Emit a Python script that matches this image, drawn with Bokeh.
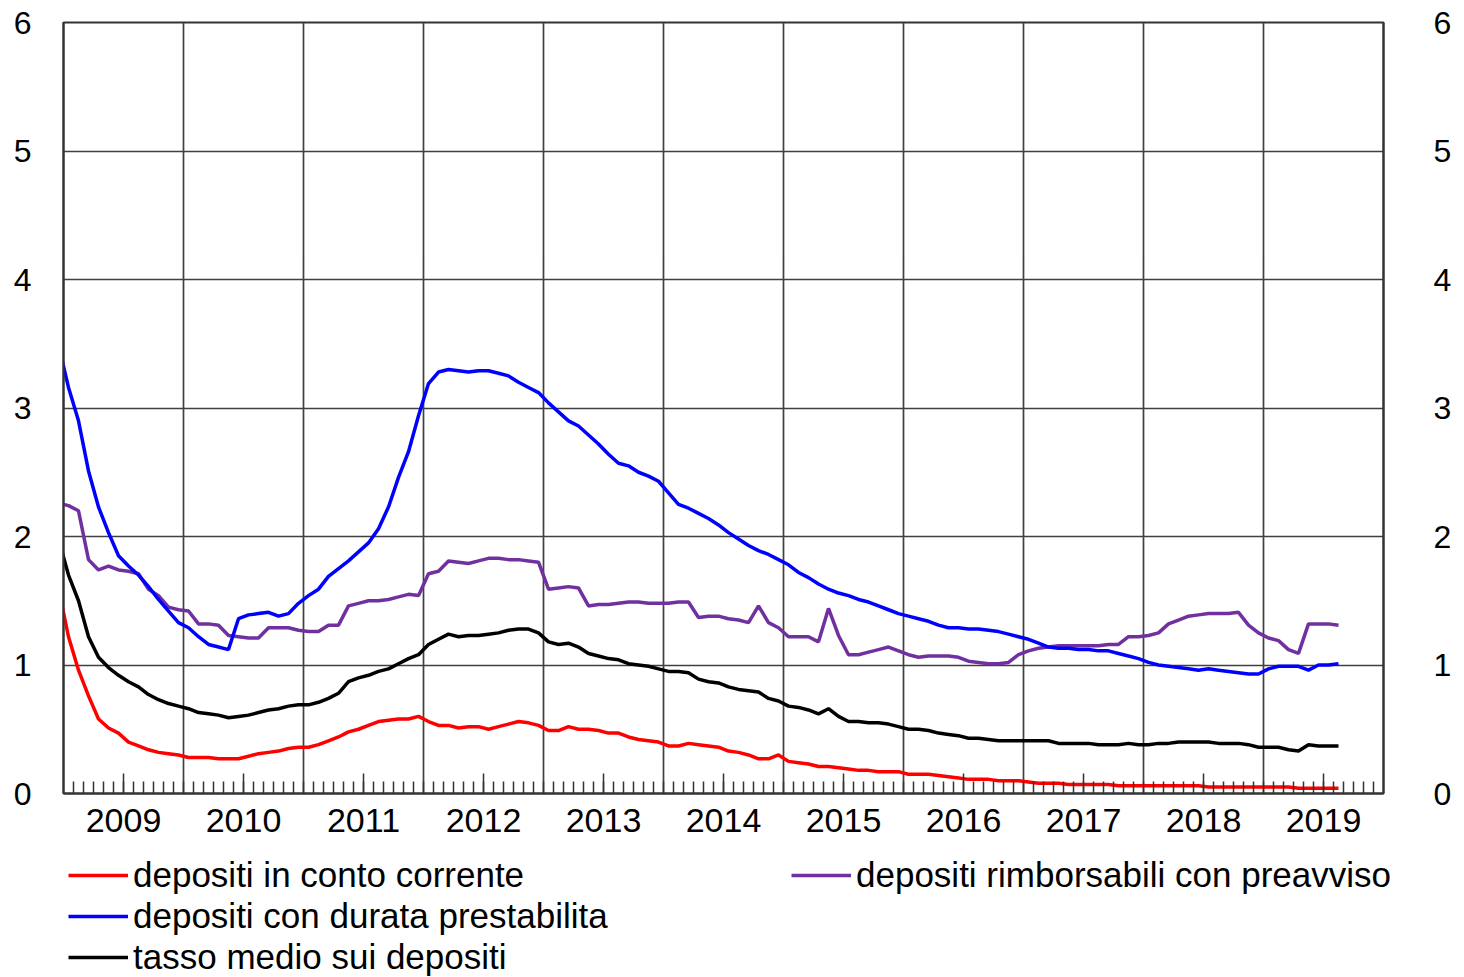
from bokeh.plotting import figure
from bokeh.layouts import column
from bokeh.models import FixedTicker, LinearAxis, Range1d, Legend, LegendItem, ColumnDataSource
from bokeh.embed import file_html
from bokeh.resources import INLINE

# ---------------- data (monthly, Dec 2008 .. Aug 2019) ----------------
first_year, first_month = 2008, 12
years = ["2009", "2010", "2011", "2012", "2013", "2014", "2015", "2016", "2017", "2018", "2019"]
y_ticks = [0, 1, 2, 3, 4, 5, 6]
labels = ["depositi in conto corrente", "depositi con durata prestabilita",
          "tasso medio sui depositi", "depositi rimborsabili con preavviso"]

conto_corrente = [
    1.60,
    1.22, 0.96, 0.76, 0.58, 0.51, 0.47, 0.40, 0.37, 0.34, 0.32, 0.31, 0.30,
    0.28, 0.28, 0.28, 0.27, 0.27, 0.27, 0.29, 0.31, 0.32, 0.33, 0.35, 0.36,
    0.36, 0.38, 0.41, 0.44,
    0.48, 0.50, 0.53, 0.56, 0.57, 0.58, 0.58, 0.60, 0.56, 0.53, 0.53, 0.51,
    0.52, 0.52, 0.50, 0.52, 0.54, 0.56, 0.55, 0.53, 0.49, 0.49, 0.52, 0.50,
    0.50, 0.49, 0.47, 0.47, 0.44,
    0.42, 0.41, 0.40, 0.37, 0.37, 0.39, 0.38, 0.37, 0.36, 0.33, 0.32, 0.30,
    0.27, 0.27, 0.30, 0.25, 0.24, 0.23, 0.21, 0.21, 0.20, 0.19, 0.18, 0.18,
    0.17, 0.17, 0.17, 0.15, 0.15,
    0.15, 0.14, 0.13, 0.12, 0.11, 0.11, 0.11, 0.10, 0.10, 0.10, 0.09, 0.08,
    0.08, 0.08, 0.07, 0.07, 0.07, 0.07, 0.07, 0.06, 0.06, 0.06, 0.06, 0.06,
    0.06, 0.06, 0.06, 0.06, 0.05, 0.05, 0.05, 0.05, 0.05, 0.05, 0.05, 0.05,
    0.05, 0.04, 0.04, 0.04, 0.04, 0.04,
]

durata_prestabilita = [
    3.49,
    3.16, 2.90, 2.51, 2.23, 2.03, 1.85, 1.77, 1.70, 1.61, 1.51, 1.42, 1.33,
    1.29, 1.22, 1.16, 1.14, 1.12, 1.36, 1.39, 1.40, 1.41, 1.38, 1.40, 1.48,
    1.54, 1.59, 1.69, 1.75,
    1.81, 1.88, 1.95, 2.06, 2.23, 2.46, 2.66, 2.94, 3.19, 3.28, 3.30, 3.29,
    3.28, 3.29, 3.29, 3.27, 3.25, 3.20, 3.16, 3.12, 3.04, 2.97, 2.90, 2.86,
    2.79, 2.72, 2.64, 2.57, 2.55,
    2.50, 2.47, 2.43, 2.34, 2.25, 2.22, 2.18, 2.14, 2.09, 2.03, 1.98, 1.93,
    1.89, 1.86, 1.82, 1.78, 1.72, 1.68, 1.63, 1.59, 1.56, 1.54, 1.51, 1.49,
    1.46, 1.43, 1.40, 1.38, 1.36,
    1.34, 1.31, 1.29, 1.29, 1.28, 1.28, 1.27, 1.26, 1.24, 1.22, 1.20, 1.17,
    1.14, 1.13, 1.13, 1.12, 1.12, 1.11, 1.11, 1.09, 1.07, 1.05, 1.02, 1.00,
    0.99, 0.98, 0.97, 0.96, 0.97, 0.96, 0.95, 0.94, 0.93, 0.93, 0.97, 0.99,
    0.99, 0.99, 0.96, 1.00, 1.00, 1.01,
]

rimborsabili_preavviso = [
    2.26,
    2.24, 2.20, 1.82, 1.74, 1.77, 1.74, 1.73, 1.71, 1.59, 1.54, 1.45, 1.43,
    1.42, 1.32, 1.32, 1.31, 1.23, 1.22, 1.21, 1.21, 1.29, 1.29, 1.29, 1.27,
    1.26, 1.26, 1.31, 1.31,
    1.46, 1.48, 1.50, 1.50, 1.51, 1.53, 1.55, 1.54, 1.71, 1.73, 1.81, 1.80,
    1.79, 1.81, 1.83, 1.83, 1.82, 1.82, 1.81, 1.80, 1.59, 1.60, 1.61, 1.60,
    1.46, 1.47, 1.47, 1.48, 1.49,
    1.49, 1.48, 1.48, 1.48, 1.49, 1.49, 1.37, 1.38, 1.38, 1.36, 1.35, 1.33,
    1.46, 1.33, 1.29, 1.22, 1.22, 1.22, 1.18, 1.44, 1.23, 1.08, 1.08, 1.10,
    1.12, 1.14, 1.11, 1.08, 1.06,
    1.07, 1.07, 1.07, 1.06, 1.03, 1.02, 1.01, 1.01, 1.02, 1.08, 1.11, 1.13,
    1.14, 1.15, 1.15, 1.15, 1.15, 1.15, 1.16, 1.16, 1.22, 1.22, 1.23, 1.25,
    1.32, 1.35, 1.38, 1.39, 1.40, 1.40, 1.40, 1.41, 1.31, 1.25, 1.21, 1.19,
    1.12, 1.09, 1.32, 1.32, 1.32, 1.31,
]

tasso_medio = [
    1.98,
    1.70, 1.50, 1.22, 1.06, 0.98, 0.92, 0.87, 0.83, 0.77, 0.73, 0.70, 0.68,
    0.66, 0.63, 0.62, 0.61, 0.59, 0.60, 0.61, 0.63, 0.65, 0.66, 0.68, 0.69,
    0.69, 0.71, 0.74, 0.78,
    0.87, 0.90, 0.92, 0.95, 0.97, 1.01, 1.05, 1.08, 1.16, 1.20, 1.24, 1.22,
    1.23, 1.23, 1.24, 1.25, 1.27, 1.28, 1.28, 1.25, 1.18, 1.16, 1.17, 1.14,
    1.09, 1.07, 1.05, 1.04, 1.01,
    1.00, 0.99, 0.97, 0.95, 0.95, 0.94, 0.89, 0.87, 0.86, 0.83, 0.81, 0.80,
    0.79, 0.74, 0.72, 0.68, 0.67, 0.65, 0.62, 0.66, 0.60, 0.56, 0.56, 0.55,
    0.55, 0.54, 0.52, 0.50, 0.50,
    0.49, 0.47, 0.46, 0.45, 0.43, 0.43, 0.42, 0.41, 0.41, 0.41, 0.41, 0.41,
    0.41, 0.39, 0.39, 0.39, 0.39, 0.38, 0.38, 0.38, 0.39, 0.38, 0.38, 0.39,
    0.39, 0.40, 0.40, 0.40, 0.40, 0.39, 0.39, 0.39, 0.38, 0.36, 0.36, 0.36,
    0.34, 0.33, 0.38, 0.37, 0.37, 0.37,
]

colors = ["#FF0000", "#0000FF", "#000000", "#7030A0"]

# month positions: 0 = start of Jan 2009, each point at the middle of its month
n = min(len(conto_corrente), len(durata_prestabilita), len(rimborsabili_preavviso), len(tasso_medio))
start_idx = (first_year - 2009) * 12 + (first_month - 1)
x_pos = [start_idx + k + 0.5 for k in range(n)]

src = ColumnDataSource(dict(
    x=x_pos,
    cc=conto_corrente[:n],
    dp=durata_prestabilita[:n],
    tm=tasso_medio[:n],
    rp=rimborsabili_preavviso[:n],
))
cols = ["cc", "dp", "tm", "rp"]

FONT = "Liberation Sans"
AX = "#333333"
W = 1464


def no_frame_align(fig):
    try:
        fig.frame_align = False
    except Exception:
        pass


p = figure(width=W, height=850, x_range=Range1d(0, 132), y_range=Range1d(0, 6),
           output_backend="svg", toolbar_location=None,
           min_border_left=63, min_border_right=81, min_border_top=22, min_border_bottom=57)
no_frame_align(p)
p.outline_line_color = AX
p.outline_line_width = 2

for c, col in reversed(list(zip(colors, cols))):
    p.line("x", col, source=src, line_color=c, line_width=3.5)

# x axis: labels at mid-year, monthly minor ticks, inside
mid_year = [6 + 12 * k for k in range(len(years))]
xa = p.xaxis[0]
xa.ticker = FixedTicker(ticks=mid_year, minor_ticks=list(range(1, 132)))
xa.major_label_overrides = {m: y for m, y in zip(mid_year, years)}
xa.major_tick_in = 20
xa.major_tick_out = 0
xa.minor_tick_in = 12
xa.minor_tick_out = 0
xa.major_tick_line_color = AX
xa.minor_tick_line_color = AX
xa.major_tick_line_width = 1.5
xa.minor_tick_line_width = 1.5
xa.axis_line_color = AX
xa.axis_line_width = 2
xa.major_label_text_font = FONT
xa.major_label_text_font_size = "34px"
xa.major_label_text_color = "black"
xa.major_label_standoff = 15

p.xgrid.ticker = FixedTicker(ticks=[12 * k for k in range(1, 11)])
p.xgrid.grid_line_color = "#404040"
p.xgrid.grid_line_width = 1.7

# y axes, left and right
ya = p.yaxis[0]
right = LinearAxis()
p.add_layout(right, "right")
for ax, st in ((ya, 32), (right, 50)):
    ax.ticker = FixedTicker(ticks=y_ticks)
    ax.major_tick_line_color = None
    ax.minor_tick_line_color = None
    ax.major_tick_out = 0
    ax.major_tick_in = 0
    ax.minor_tick_out = 0
    ax.minor_tick_in = 0
    ax.axis_line_color = AX
    ax.axis_line_width = 2
    ax.major_label_text_font = FONT
    ax.major_label_text_font_size = "32px"
    ax.major_label_text_color = "black"
    ax.major_label_standoff = st

p.ygrid.ticker = FixedTicker(ticks=y_ticks[1:-1])
p.ygrid.grid_line_color = "#404040"
p.ygrid.grid_line_width = 1.7

# ---------------- legend strip below the chart ----------------
# key renderers carry the same series, kept out of this strip's visible ranges
q = figure(width=W, height=127, x_range=Range1d(1000, 1001), y_range=Range1d(1000, 1001),
           output_backend="svg", toolbar_location=None,
           min_border_left=68, min_border_top=5, min_border_right=0, min_border_bottom=0)
no_frame_align(q)
q.axis.visible = False
q.grid.visible = False
q.outline_line_color = None
keys = [q.line("x", col, source=src, line_color=c, line_width=3.5) for c, col in zip(colors, cols)]

leg = Legend(items=[LegendItem(label=l, renderers=[r]) for l, r in zip(labels, keys)],
             location="top_left", orientation="vertical", nrows=3,
             glyph_width=60, glyph_height=30, label_standoff=5, label_width=657, spacing=1,
             padding=0, margin=0, border_line_color=None, background_fill_alpha=0,
             label_text_font=FONT, label_text_font_size="35px", label_text_color="black")
q.add_layout(leg)

layout = column(p, q, spacing=0)
open("out.html", "w").write(file_html(layout, INLINE))
